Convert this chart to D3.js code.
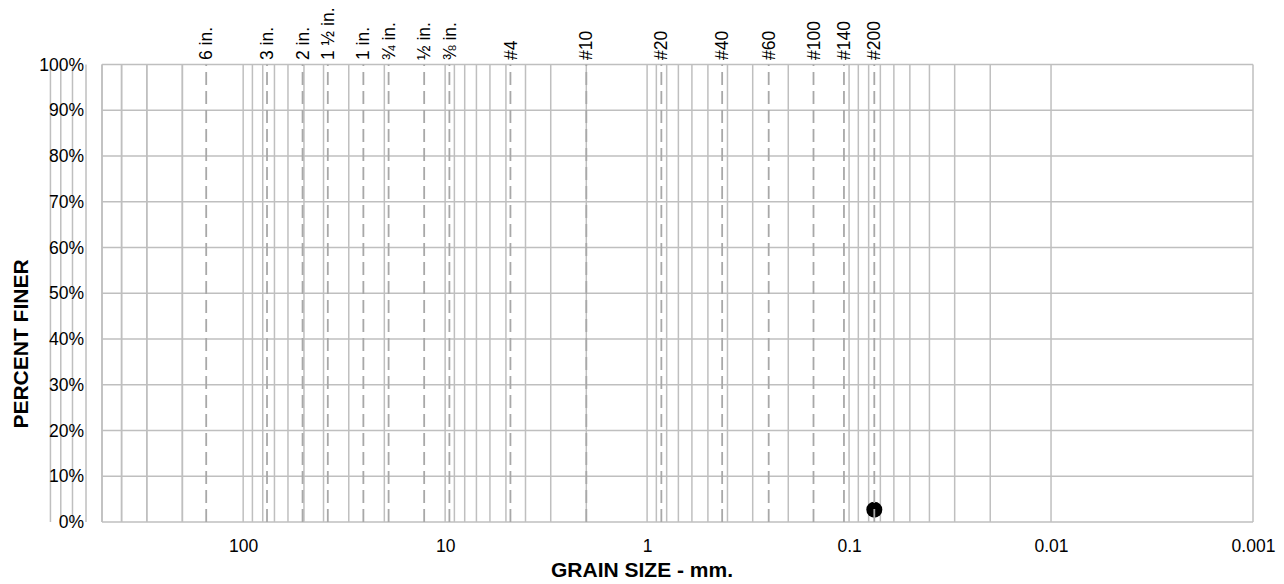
<!DOCTYPE html>
<html><head><meta charset="utf-8">
<script src="https://cdn.jsdelivr.net/npm/d3@7"></script>
<style>
body{margin:0;background:#fff}
text{font-family:"Liberation Sans",Arial,sans-serif}
</style>
</head><body><svg id="c" width="1284" height="584"></svg>
<script>
// Sieve openings (mm) and their labels
const sieveLabels = ["6 in.", "3 in.", "2 in.", "1 \u00BD in.", "1 in.", "\u00BE in.", "\u00BD in.", "\u215C in.",
                     "#4", "#10", "#20", "#40", "#60", "#100", "#140", "#200"];
const sieveSizes  = [152.4, 76.2, 50.8, 38.1, 25.4, 19.05, 12.7, 9.525,
                     4.75, 2.0, 0.85, 0.425, 0.25, 0.15, 0.106, 0.075];
// Axis ticks
const xTickValues = [100, 10, 1, 0.1, 0.01, 0.001];
const yTickValues = [0, 10, 20, 30, 40, 50, 60, 70, 80, 90, 100];
// Sample data
const grainSizes   = [0.075];
const percentFiner = [2.7];

const L = 102, R = 1253, T = 64.5, B = 522;
const svg = d3.select("#c");
const x = d3.scaleLog().domain([500, 0.001]).range([L, R]);
const y = d3.scaleLinear().domain([0, 100]).range([B, T]);

// minor/major log grid values
const gridX = [500, 400, 300, 200];
for (let e = 2; e >= -3; e--) {
  for (let m = 9; m >= 1; m--) {
    if (e === -3 && m > 1) continue;
    gridX.push(+(m * Math.pow(10, e)).toPrecision(6));
  }
}

const gridColor = "#bfbfbf";
const g = svg.append("g");
g.selectAll("line.vx").data(gridX).join("line")
  .attr("x1", d => x(d)).attr("x2", d => x(d))
  .attr("y1", T).attr("y2", B)
  .attr("stroke", gridColor).attr("stroke-width", 1.5);
g.selectAll("line.hy").data(yTickValues).join("line")
  .attr("x1", L).attr("x2", R)
  .attr("y1", d => y(d)).attr("y2", d => y(d))
  .attr("stroke", gridColor).attr("stroke-width", 1.5);

// data point
svg.append("g").selectAll("circle").data(grainSizes).join("circle")
  .attr("cx", d => x(d)).attr("cy", (d, i) => y(percentFiner[i]))
  .attr("r", 8).attr("fill", "#000");

// sieve dashed lines
svg.append("g").selectAll("line").data(sieveSizes).join("line")
  .attr("x1", d => x(d)).attr("x2", d => x(d))
  .attr("y1", B).attr("y2", T)
  .attr("stroke", "#a8a8a8").attr("stroke-width", 1.8)
  .attr("stroke-dasharray", "13,6");

// sieve labels
svg.append("g").selectAll("text").data(sieveSizes).join("text")
  .attr("transform", d => `translate(${x(d)},60) rotate(-90)`)
  .attr("dy", "0.35em")
  .attr("text-anchor", "start")
  .attr("font-size", "17.5px")
  .attr("fill", "#000")
  .text((d, i) => sieveLabels[i]);

// axes
const xAxis = svg.append("g").attr("transform", `translate(0,${B})`)
  .call(d3.axisBottom(x).tickValues(xTickValues).tickFormat(d => String(d)).tickSize(0).tickPadding(17.5));
xAxis.select(".domain").remove();
xAxis.selectAll("text").attr("font-size", "17.5px").attr("fill", "#000").attr("font-family", null);

const yAxis = svg.append("g").attr("transform", `translate(${L},0)`)
  .call(d3.axisLeft(y).tickValues(yTickValues).tickFormat(d => d + "%").tickSize(0).tickPadding(18));
yAxis.select(".domain").remove();
yAxis.selectAll("text").attr("font-size", "17.5px").attr("fill", "#000").attr("font-family", null);

// titles
svg.append("text").attr("x", 642).attr("y", 577).attr("text-anchor", "middle")
  .attr("font-size", "21px").attr("font-weight", "bold").attr("fill", "#000")
  .text("GRAIN SIZE - mm.");
svg.append("text").attr("transform", "translate(28.3,344) rotate(-90)").attr("text-anchor", "middle")
  .attr("font-size", "21px").attr("font-weight", "bold").attr("fill", "#000")
  .text("PERCENT FINER");
</script>
</body></html>
